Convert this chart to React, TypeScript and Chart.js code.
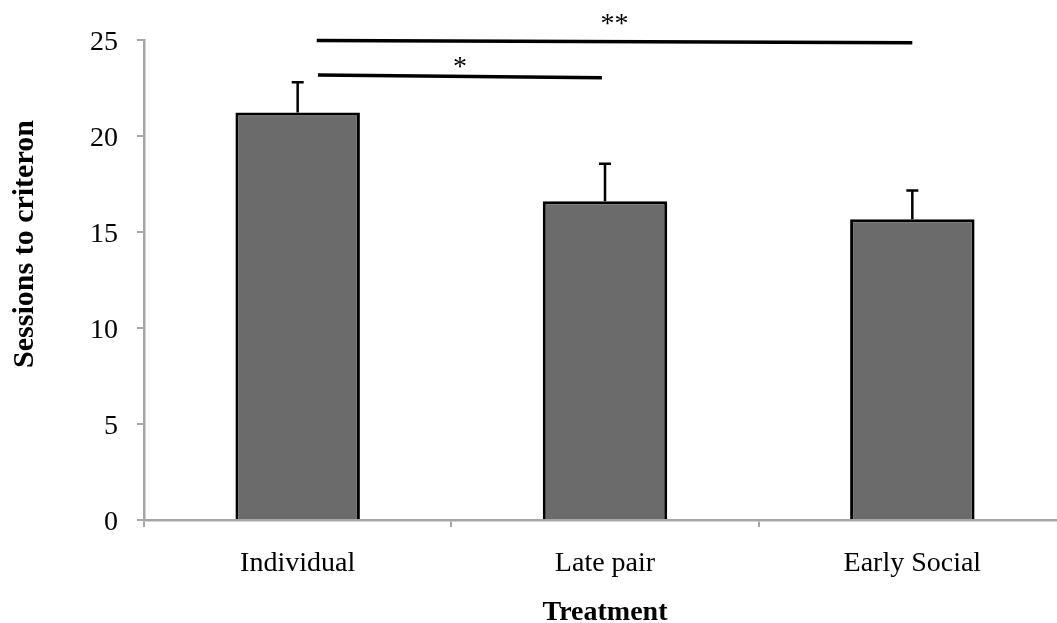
import React, { useEffect, useRef } from 'react';
import { Chart, registerables } from 'chart.js';

Chart.register(...registerables);

const categories = ['Individual', 'Late pair', 'Early Social'];
const means = [21.22, 16.6, 15.66];
const sems = [1.58, 1.95, 1.5];
const yMin = 0;
const yMax = 25;
const yStep = 5;

// significance brackets (category index units / value units)
const sigLabels = ['*', '**'];
const sigFrom = [0.066, 0.062];
const sigTo = [0.99, 2.0];
const sigYFrom = [23.18, 24.98];
const sigYTo = [23.04, 24.86];
const sigLabelY = [23.85, 26.1];

const xTitle = 'Treatment';
const yTitle = 'Sessions to criteron';

const FONT = "'Liberation Serif', 'Times New Roman', serif";
const AXIS = '#a6a6a6';

export default function App() {
  const ref = useRef<HTMLCanvasElement | null>(null);

  useEffect(() => {
    const canvas = ref.current;
    if (!canvas) return;

    const overlay = {
      id: 'overlay',
      afterDatasetsDraw(chart: any) {
        const ctx = chart.ctx;
        const ys = chart.scales.y;
        const xs = chart.scales.x;
        const meta = chart.getDatasetMeta(0);
        ctx.save();
        // error bars (upper only)
        ctx.strokeStyle = '#000';
        ctx.lineWidth = 2.5;
        meta.data.forEach((bar: any, i: number) => {
          const x = bar.x;
          const y0 = ys.getPixelForValue(means[i]);
          const y1 = ys.getPixelForValue(means[i] + sems[i]);
          ctx.beginPath();
          ctx.moveTo(x, y0);
          ctx.lineTo(x, y1);
          ctx.moveTo(x - 6, y1);
          ctx.lineTo(x + 6, y1);
          ctx.stroke();
        });
        // significance lines
        ctx.lineWidth = 3.5;
        ctx.lineCap = 'butt';
        sigLabels.forEach((lab, i) => {
          const xa = xs.getPixelForValue(sigFrom[i]);
          const xb = xs.getPixelForValue(sigTo[i]);
          ctx.beginPath();
          ctx.moveTo(xa, ys.getPixelForValue(sigYFrom[i]));
          ctx.lineTo(xb, ys.getPixelForValue(sigYTo[i]));
          ctx.stroke();
          ctx.fillStyle = '#000';
          ctx.font = `28px ${FONT}`;
          ctx.textAlign = 'center';
          ctx.textBaseline = 'alphabetic';
          ctx.fillText(lab, (xa + xb) / 2, ys.getPixelForValue(sigLabelY[i]) + 13);
        });
        ctx.restore();
      },
      afterDraw(chart: any) {
        const ctx = chart.ctx;
        const area = chart.chartArea;
        ctx.save();
        ctx.fillStyle = '#000';
        ctx.font = `bold 28px ${FONT}`;
        ctx.textAlign = 'center';
        ctx.textBaseline = 'alphabetic';
        ctx.fillText(xTitle, (area.left + area.right) / 2, 620);
        ctx.font = `bold 30px ${FONT}`;
        ctx.translate(33, 244);
        ctx.rotate(-Math.PI / 2);
        ctx.fillText(yTitle, 0, 0);
        ctx.restore();
      },
    };

    const chart = new Chart(canvas, {
      type: 'bar',
      data: {
        labels: categories,
        datasets: [
          {
            data: means,
            backgroundColor: '#6b6b6b',
            borderColor: '#000',
            borderWidth: 3,
            borderSkipped: 'bottom',
            categoryPercentage: 1,
            barPercentage: 0.405,
          },
        ],
      },
      options: {
        animation: false,
        responsive: false,
        devicePixelRatio: 1,
        layout: { padding: { top: 40, right: 14, left: 0, bottom: 0 } },
        plugins: { legend: { display: false }, tooltip: { enabled: false } },
        scales: {
          x: {
            grid: {
              offset: true,
              drawOnChartArea: false,
              drawTicks: true,
              tickLength: 7,
              color: AXIS,
              lineWidth: 2,
            },
            border: { display: true, color: AXIS, width: 2.5 },
            ticks: {
              color: '#000',
              font: { family: FONT, size: 28 },
              padding: 20,
              maxRotation: 0,
            },
            afterFit: (s: any) => {
              s.height = 103;
            },
          },
          y: {
            min: yMin,
            max: yMax,
            grid: {
              drawOnChartArea: false,
              drawTicks: true,
              tickLength: 7,
              color: AXIS,
              lineWidth: 2,
            },
            border: { display: true, color: AXIS, width: 2.5 },
            ticks: {
              stepSize: yStep,
              color: '#000',
              font: { family: FONT, size: 28 },
              padding: 19,
              labelOffset: 3,
            },
            afterFit: (s: any) => {
              s.width = 144;
            },
          },
        },
      },
      plugins: [overlay],
    });

    return () => chart.destroy();
  }, []);

  return (
    <div
      style={{
        position: 'fixed',
        left: 0,
        top: 0,
        width: 1057,
        height: 623,
        overflow: 'hidden',
        background: '#fff',
      }}
    >
      <canvas ref={ref} width={1080} height={623} style={{ width: 1080, height: 623, display: 'block' }} />
    </div>
  );
}
